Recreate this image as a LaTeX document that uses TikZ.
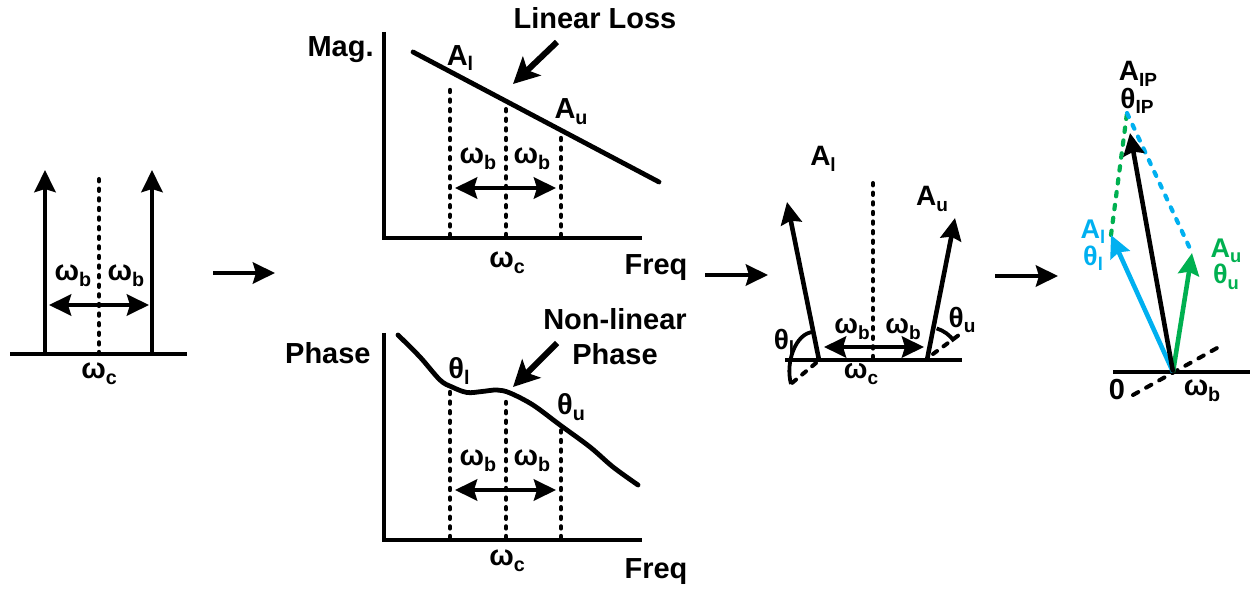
\documentclass[tikz,border=0pt]{standalone}
\usepackage{fontspec}
\setmainfont{Liberation Sans}
\usetikzlibrary{arrows.meta}
\newcommand\sbs[1]{\raisebox{-0.2em}{\fontsize{\the\dimexpr0.68\fontdimen6\font\relax}{0pt}\selectfont #1}}
\definecolor{cblue}{RGB}{0,176,240}
\definecolor{cgreen}{RGB}{0,176,80}
\tikzset{
 lbl/.style={font=\fontsize{14.5}{17.5}\selectfont\bfseries, inner sep=0pt, align=center},
 lblbig/.style={lbl, font=\fontsize{14.5}{17.5}\selectfont\bfseries},
 lblfour/.style={lbl, font=\fontsize{14}{15}\selectfont\bfseries},
 lblfive/.style={lbl, font=\fontsize{13.5}{14}\selectfont\bfseries},
 axis/.style={line width=2.4pt},
 dotl/.style={line width=2.2pt, line cap=round, dash pattern=on 1pt off 3.8pt},
 tip/.style={-{Stealth[length=11pt,width=10.5pt,inset=1.5pt]}},
 arr/.style={line width=2.3pt, tip},
 darr/.style={line width=2.3pt, {Stealth[length=11pt,width=10.5pt,inset=1.5pt]}-{Stealth[length=11pt,width=10.5pt,inset=1.5pt]}},
 bigarr/.style={line width=3pt, -{Stealth[length=13pt,width=13pt,inset=3pt]}},
 refdash/.style={line width=2pt, line cap=round, dash pattern=on 2.5pt off 4pt},
 coldash/.style={line width=2.1pt, line cap=round, dash pattern=on 2.2pt off 4.3pt},
}
\begin{document}
\begin{tikzpicture}[x=0.5pt,y=-0.5pt]
\useasboundingbox (0,0) rectangle (1251,592);

% ---------- panel 1 ----------
\coordinate (p1l) at (10,354);
\coordinate (p1r) at (187,354);
\coordinate (p1a0) at (45,354); \coordinate (p1a1) at (45,170);
\coordinate (p1b0) at (152,354); \coordinate (p1b1) at (152,170);
\coordinate (p1c0) at (99,354); \coordinate (p1c1) at (99,174);
\coordinate (p1d0) at (49,305); \coordinate (p1d1) at (149,305);
\draw[axis] (p1l) -- (p1r);
\draw[arr] (p1a0) -- (p1a1);
\draw[arr] (p1b0) -- (p1b1);
\draw[dotl] (p1c0) -- (p1c1);
\draw[darr] (p1d0) -- (p1d1);
\node[lbl] (p1wb1) at (73,276) {ω\sbs{b}};
\node[lbl] (p1wb2) at (126,276) {ω\sbs{b}};
\node[lbl] (p1wc) at (99,374) {ω\sbs{c}};

% ---------- connecting arrows ----------
\coordinate (c1a) at (213,273); \coordinate (c1b) at (275,273);
\coordinate (c2a) at (705,275); \coordinate (c2b) at (768,275);
\coordinate (c3a) at (995,276); \coordinate (c3b) at (1058,276);
\draw[arr] (c1a) -- (c1b);
\draw[arr] (c2a) -- (c2b);
\draw[arr] (c3a) -- (c3b);

% ---------- panel 2 (magnitude) ----------
\coordinate (m0) at (384,238);
\coordinate (mtop) at (384,32);
\coordinate (mright) at (642,238);
\draw[axis] (mtop) -- (m0) -- (mright);
\coordinate (ml0) at (413,52); \coordinate (ml1) at (659,182);
\draw[axis, line cap=round] (ml0) -- (ml1);
\coordinate (mda0) at (450,236); \coordinate (mda1) at (450,85);
\coordinate (mdb0) at (506,236); \coordinate (mdb1) at (506,102);
\coordinate (mdc0) at (561,236); \coordinate (mdc1) at (561,131);
\draw[dotl] (mda0) -- (mda1);
\draw[dotl] (mdb0) -- (mdb1);
\draw[dotl] (mdc0) -- (mdc1);
\coordinate (mdd0) at (455,188); \coordinate (mdd1) at (556,188);
\draw[darr] (mdd0) -- (mdd1);
\node[lbl, anchor=east] (mag) at (374,50) {Mag.};
\node[lbl] (mal) at (460,58) {A\sbs{l}};
\node[lbl] (mau) at (571,112) {A\sbs{u}};
\node[lblbig] (lloss) at (595,18) {Linear Loss};
\coordinate (mp0) at (557,42); \coordinate (mp1) at (513,84);
\draw[bigarr] (mp0) -- (mp1);
\node[lbl] (mwb1) at (478,159) {ω\sbs{b}};
\node[lbl] (mwb2) at (532,159) {ω\sbs{b}};
\node[lbl] (mwc) at (507,263) {ω\sbs{c}};
\node[lbl] (mfreq) at (656,268) {Freq};

% ---------- panel 3 (phase) ----------
\coordinate (ph0) at (384,540);
\coordinate (phtop) at (384,333);
\coordinate (phright) at (642,540);
\draw[axis] (phtop) -- (ph0) -- (phright);
\draw[axis, line cap=round] plot[smooth, tension=0.55] coordinates {(398,335) (420,357) (440,380) (452,387) (467,392.5) (482,391.5) (497,390) (510,393) (533,405) (560,425) (590,447) (613,467) (638,485)};
\coordinate (pda0) at (450,538); \coordinate (pda1) at (450,390);
\coordinate (pdb0) at (506,538); \coordinate (pdb1) at (506,402);
\coordinate (pdc0) at (561,538); \coordinate (pdc1) at (561,430);
\draw[dotl] (pda0) -- (pda1);
\draw[dotl] (pdb0) -- (pdb1);
\draw[dotl] (pdc0) -- (pdc1);
\coordinate (pdd0) at (455,490); \coordinate (pdd1) at (556,490);
\draw[darr] (pdd0) -- (pdd1);
\node[lblbig, anchor=east] (phase) at (371,353) {Phase};
\node[lbl] (ptl) at (459,371) {θ\sbs{l}};
\node[lbl] (ptu) at (571,407) {θ\sbs{u}};
\node[lblbig] (nlp) at (615,337) {Non-linear\\Phase};
\coordinate (pp0) at (557,343); \coordinate (pp1) at (513,387);
\draw[bigarr] (pp0) -- (pp1);
\node[lbl] (pwb1) at (478,461) {ω\sbs{b}};
\node[lbl] (pwb2) at (532,461) {ω\sbs{b}};
\node[lbl] (pwc) at (507,561) {ω\sbs{c}};
\node[lbl] (pfreq) at (656,572) {Freq};

% ---------- panel 4 ----------
\coordinate (q0) at (785,360); \coordinate (q1) at (962,360);
\draw[axis] (q0) -- (q1);
\coordinate (qa0) at (819,360); \coordinate (qa1) at (787,202);
\coordinate (qb0) at (927,360); \coordinate (qb1) at (955,218);
\draw[arr] (qa0) -- (qa1);
\draw[arr] (qb0) -- (qb1);
\coordinate (qc0) at (873,358); \coordinate (qc1) at (873,178);
\draw[dotl] (qc0) -- (qc1);
\coordinate (qd0) at (824,347); \coordinate (qd1) at (924,347);
\draw[darr] (qd0) -- (qd1);
\node[lblfour] (qwb1) at (852,329) {ω\sbs{b}};
\node[lblfour] (qwb2) at (903,329) {ω\sbs{b}};
\node[lblfour] (qwc) at (861,374) {ω\sbs{c}};
\node[lblfour] (qal) at (823,159) {A\sbs{l}};
\node[lblfour] (qau) at (932,199) {A\sbs{u}};
\node[lblfour] (qtl) at (784,342) {θ\sbs{l}};
\node[lblfour] (qtu) at (962,320) {θ\sbs{u}};
% theta_l angle
\coordinate (qla0) at (816,363); \coordinate (qla1) at (792,383);
\draw[refdash] (qla0) -- (qla1);
\coordinate (qlc0) at (813,332); \coordinate (qlc1) at (791,384);
\draw[line width=1.9pt] (qlc0) .. controls (796,333) and (785,362) .. (qlc1);
% theta_u angle
\coordinate (qua0) at (933,354); \coordinate (qua1) at (963,332);
\draw[refdash] (qua0) -- (qua1);
\draw[line width=1.9pt] (qb0) ++(-73:33) arc[start angle=-73, end angle=-35, radius=33];

% ---------- panel 5 ----------
\coordinate (r0) at (1113,372); \coordinate (r1) at (1250,372);
\draw[axis] (r0) -- (r1);
\coordinate (ro) at (1173,372);
\coordinate (rd0) at (1133,395); \coordinate (rd1) at (1217,348);
\draw[line width=2pt, line cap=round, dash pattern=on 3pt off 4.5pt] (rd0) -- (rd1);
\coordinate (rbl) at (1111,235);
\coordinate (rgr) at (1192,253);
\coordinate (rtop) at (1127,113);
\coordinate (rip) at (1130,133);
\draw[coldash, cgreen] (rbl) -- (rtop);
\draw[coldash, cblue] (rtop) -- (rgr);
\draw[arr, cblue] (ro) -- (rbl);
\draw[arr, cgreen] (ro) -- (rgr);
\draw[arr] (ro) -- (rip);
\node[lblfour] (rAip) at (1138,74) {A\sbs{IP}};
\node[lblfour] (rTip) at (1137,101) {θ\sbs{IP}};
\node[lblfive, text=cblue] (rAl) at (1093,232) {A\sbs{l}};
\node[lblfive, text=cblue] (rTl) at (1093,258) {θ\sbs{l}};
\node[lblfive, text=cgreen] (rAu) at (1226,251) {A\sbs{u}};
\node[lblfive, text=cgreen] (rTu) at (1226,277) {θ\sbs{u}};
\node[lbl] (rzero) at (1117,390) {0};
\node[lbl] (rwb) at (1202,391) {ω\sbs{b}};
\end{tikzpicture}
\end{document}
